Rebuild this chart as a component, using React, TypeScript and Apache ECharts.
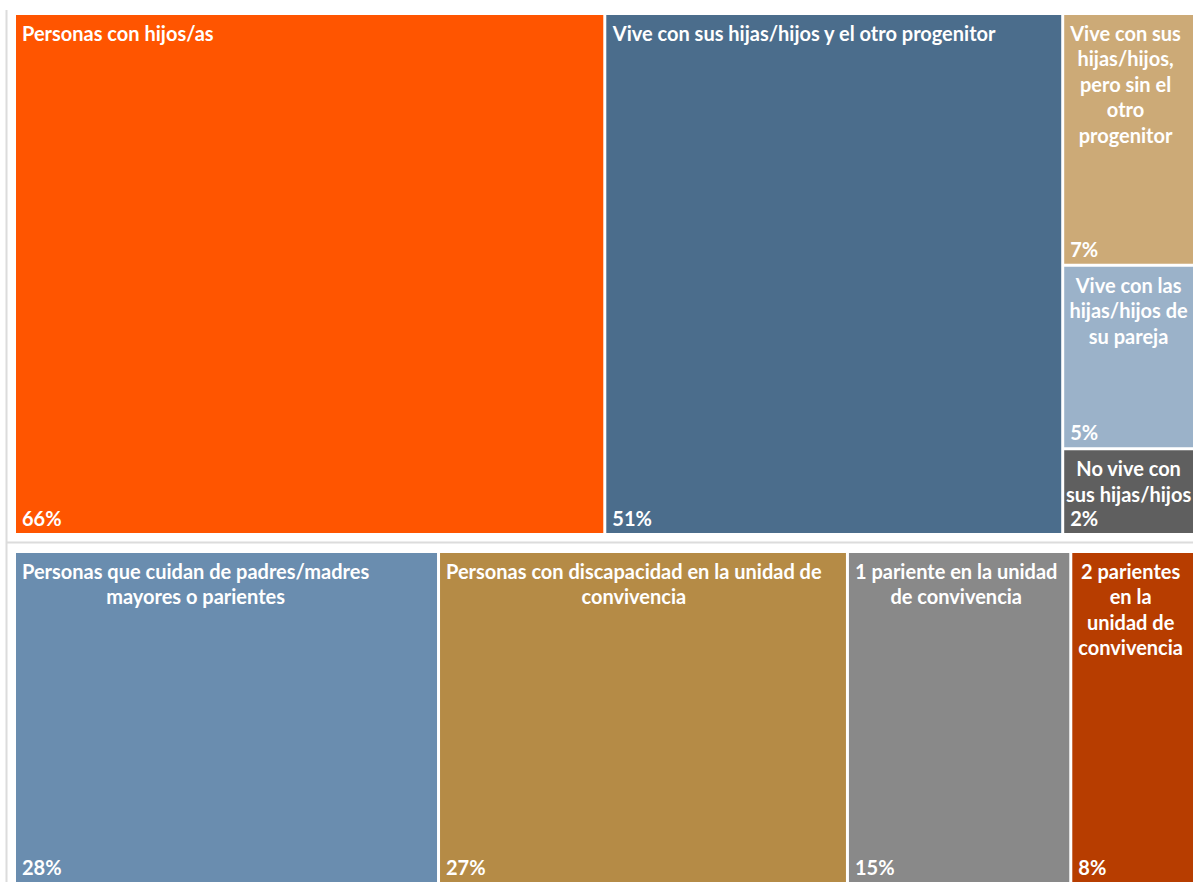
import React, { useEffect, useRef } from "react";
import * as echarts from "echarts";

// ---- Data ----
const topNames = [
  "Personas con hijos/as",
  "Vive con sus hijas/hijos y el otro progenitor",
  "Vive con sus\nhijas/hijos,\npero sin el\notro\nprogenitor",
  "Vive con las\nhijas/hijos de\nsu pareja",
  "No vive con\nsus hijas/hijos",
];
// shares (%); labels show them rounded
const topValues = [66, 51.2, 7.0, 5.1, 2.3];
const topColumns = [0, 1, 2, 2, 2];
const topColors = ["#FF5500", "#4B6D8C", "#CCAA77", "#9BB2C9", "#5F5F5F"];

const bottomNames = [
  "Personas que cuidan de padres/madres\nmayores o parientes",
  "Personas con discapacidad en la unidad de\nconvivencia",
  "1 pariente en la unidad\nde convivencia",
  "2 parientes\nen la\nunidad de\nconvivencia",
];
const bottomValues = [28.1, 27.1, 14.8, 8];
const bottomColumns = [0, 1, 2, 3];
const bottomColors = ["#6A8DAF", "#B58B46", "#898989", "#B73D00"];

const FONT_FAMILY = "Lato";
const FONT_SIZE = 20;
const FONT = `bold ${FONT_SIZE}px ${FONT_FAMILY}`;

function buildCells(values: number[], columns: number[]) {
  const nCols = Math.max(...columns) + 1;
  const colSums = new Array(nCols).fill(0);
  values.forEach((v, i) => (colSums[columns[i]] += v));
  const colStart: number[] = [];
  let acc = 0;
  for (let c = 0; c < nCols; c++) {
    colStart.push(acc);
    acc += colSums[c];
  }
  const yAcc = new Array(nCols).fill(0);
  const cells = values.map((v, i) => {
    const c = columns[i];
    const x0 = colStart[c];
    const x1 = colStart[c] + colSums[c];
    const y0 = yAcc[c] / colSums[c];
    yAcc[c] += v;
    const y1 = yAcc[c] / colSums[c];
    return [x0, x1, y0, y1, i, v];
  });
  return { cells, total: acc };
}

let measureCtx: CanvasRenderingContext2D | null = null;
function textWidth(s: string) {
  if (!measureCtx) measureCtx = document.createElement("canvas").getContext("2d");
  measureCtx!.font = FONT;
  return Math.max(...s.split("\n").map((l) => measureCtx!.measureText(l).width));
}

function makeRenderItem(names: string[], colors: string[], total: number) {
  return (params: any, api: any) => {
    const x0 = api.value(0);
    const x1 = api.value(1);
    const y0 = api.value(2);
    const y1 = api.value(3);
    const idx = api.value(4);
    const val = api.value(5);
    const p0 = api.coord([x0, y0]);
    const p1 = api.coord([x1, y1]);
    const left = p0[0];
    let right = p1[0];
    const top = p0[1];
    let bottom = p1[1];
    if (x1 < total - 1e-9) right -= 3;
    if (y1 < 1 - 1e-9) bottom -= 3;
    const name = names[idx];
    const w = textWidth(name);
    const pad = Math.min(6, Math.max(1, (right - left - w) / 2));
    return {
      type: "group",
      children: [
        {
          type: "rect",
          shape: { x: left, y: top, width: right - left, height: bottom - top },
          style: { fill: colors[idx] },
        },
        {
          type: "text",
          style: {
            text: name,
            x: left + pad + w / 2,
            y: top + 5,
            align: "center",
            verticalAlign: "top",
            fill: "#FFFFFF",
            font: FONT,
            lineHeight: 25.5,
          },
        },
        {
          type: "text",
          style: {
            text: `${Math.round(val)}%`,
            x: left + 6,
            y: bottom - 15,
            align: "left",
            verticalAlign: "middle",
            fill: "#FFFFFF",
            font: FONT,
          },
        },
      ],
    };
  };
}

export default function App() {
  const ref = useRef<HTMLDivElement>(null);
  useEffect(() => {
    if (!ref.current) return;
    const chart = echarts.init(ref.current, null, { renderer: "svg" });
    const topLayout = buildCells(topValues, topColumns);
    const bottomLayout = buildCells(bottomValues, bottomColumns);
    const hiddenAxis = { show: false };
    chart.setOption({
      animation: false,
      backgroundColor: "#FFFFFF",
      grid: [
        { left: 16, right: 0, top: 15, height: 518 },
        { left: 16, right: 0, top: 553, bottom: 0 },
      ],
      xAxis: [
        { type: "value", gridIndex: 0, min: 0, max: topLayout.total, ...hiddenAxis },
        { type: "value", gridIndex: 1, min: 0, max: bottomLayout.total, ...hiddenAxis },
      ],
      yAxis: [
        { type: "value", gridIndex: 0, min: 0, max: 1, inverse: true, ...hiddenAxis },
        { type: "value", gridIndex: 1, min: 0, max: 1, inverse: true, ...hiddenAxis },
      ],
      graphic: [
        {
          type: "line",
          shape: { x1: 6.5, y1: 10, x2: 6.5, y2: 882 },
          style: { stroke: "#DCDCDC", lineWidth: 2 },
          silent: true,
        },
        {
          type: "line",
          shape: { x1: 6, y1: 542.5, x2: 1193, y2: 542.5 },
          style: { stroke: "#DCDCDC", lineWidth: 2 },
          silent: true,
        },
      ],
      series: [
        {
          type: "custom",
          xAxisIndex: 0,
          yAxisIndex: 0,
          renderItem: makeRenderItem(topNames, topColors, topLayout.total),
          data: topLayout.cells,
          clip: false,
        },
        {
          type: "custom",
          xAxisIndex: 1,
          yAxisIndex: 1,
          renderItem: makeRenderItem(bottomNames, bottomColors, bottomLayout.total),
          data: bottomLayout.cells,
          clip: false,
        },
      ],
    });
    return () => chart.dispose();
  }, []);
  return (
    <div
      ref={ref}
      style={{ position: "absolute", left: 0, top: 0, width: 1193, height: 882 }}
    />
  );
}
